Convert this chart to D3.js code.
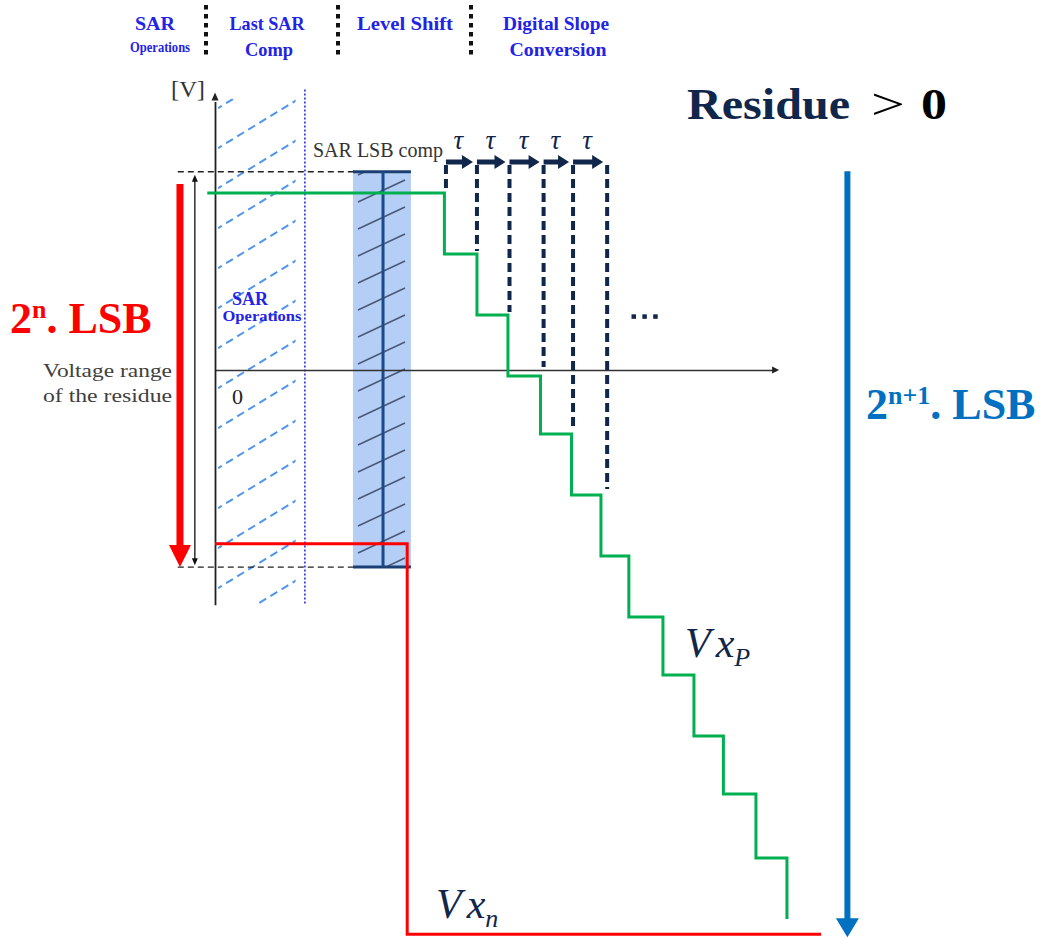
<!DOCTYPE html>
<html><head><meta charset="utf-8">
<script src="https://cdn.jsdelivr.net/npm/d3@7"></script>
<style>body{margin:0;background:#fff}svg{display:block}</style>
</head><body>
<svg id="c" width="1053" height="938"></svg>
<script>
// ---------------- data ----------------
// time in "step" units (0 = voltage axis), voltage in "step" units (0 = time axis)
const stairTime = [-0.25, 7.4, 8.45, 9.45, 10.5, 11.5, 12.45, 13.35, 14.45, 15.45, 16.4, 17.45, 18.45];
const stairVolt = [2.9, 1.9, 0.9, -0.1, -1.05, -2.05, -3.05, -4.05, -5.0, -6.0, -6.95, -8.0, -9.0];
const vxnTime = [0, 6.2, 6.2, 19.55];
const vxnVolt = [-2.85, -2.85, -9.25, -9.25];
const tauTime = [7.45, 8.45, 9.5, 10.6, 11.55, 12.65];
const tauEndVolt = [2.9, 1.95, 0.95, 0.05, -0.95, -1.95];
const tauLabels = ["τ", "τ", "τ", "τ", "τ"];
const phaseLabels = ["SAR", "Last SAR", "Level Shift", "Digital Slope"];
const phaseSubLabels = ["Operations", "Comp", "", "Conversion"];
const residueRange = [3.25, -3.23];      // top / bottom of the residue voltage range
const lsbCompTime = [4.45, 5.42, 6.32];  // left, centre, right of the last SAR comparison band
const sarOpsTime = [0.1, 2.6, 2.9];      // hatch start, hatch end, phase boundary

const svg = d3.select("#c");
const x = d3.scaleLinear().domain([0, 1]).range([215, 246]);
const y = d3.scaleLinear().domain([0, 1]).range([370, 309]);

const NAVY = "#10264a", GREEN = "#00b050", RED = "#ff0000", BLUE = "#0070c0", HDR = "#2323e6";
const SERIF = "'Liberation Serif', 'DejaVu Serif', serif";

function txt(g, px, py, s, o) {
  const t = g.append("text").attr("x", px).attr("y", py).text(s)
    .attr("font-family", o.family || SERIF).attr("font-size", o.size)
    .attr("font-weight", o.weight || "normal").attr("fill", o.fill || "#000")
    .attr("text-anchor", o.anchor || "start");
  if (o.italic) t.attr("font-style", "italic");
  if (o.width) t.attr("textLength", o.width).attr("lengthAdjust", "spacingAndGlyphs");
  return t;
}
function vArrow(g, cx, y1, y2, shaft, headL, headW, fill) {
  const p = d3.path();
  p.moveTo(cx - shaft / 2, y1); p.lineTo(cx + shaft / 2, y1);
  p.lineTo(cx + shaft / 2, y2 - headL); p.lineTo(cx + headW / 2, y2 - headL);
  p.lineTo(cx, y2); p.lineTo(cx - headW / 2, y2 - headL);
  p.lineTo(cx - shaft / 2, y2 - headL); p.closePath();
  return g.append("path").attr("d", p.toString()).attr("fill", fill);
}
function hArrow(g, x1, x2, cy, shaft, headL, headW, fill) {
  const p = d3.path();
  p.moveTo(x1, cy - shaft / 2); p.lineTo(x2 - headL, cy - shaft / 2);
  p.lineTo(x2 - headL, cy - headW / 2); p.lineTo(x2, cy);
  p.lineTo(x2 - headL, cy + headW / 2); p.lineTo(x2 - headL, cy + shaft / 2);
  p.lineTo(x1, cy + shaft / 2); p.closePath();
  return g.append("path").attr("d", p.toString()).attr("fill", fill);
}
function upHead(g, cx, tip, headL, headW, fill) {
  const p = d3.path();
  p.moveTo(cx, tip); p.lineTo(cx + headW / 2, tip + headL); p.lineTo(cx - headW / 2, tip + headL); p.closePath();
  return g.append("path").attr("d", p.toString()).attr("fill", fill);
}

// ---------------- header phases ----------------
const hdr = svg.append("g");
const hdrCx = [155, 267, 405, 556];
const hdrW = [40, 75, 96, 106];
const hdrSubCx = [160, 269, 0, 558];
const hdrSubW = [60, 48, 0, 97];
phaseLabels.forEach((s, i) => {
  txt(hdr, hdrCx[i], 30, s, {size: 19, weight: "bold", fill: HDR, anchor: "middle", width: hdrW[i]});
  if (phaseSubLabels[i])
    txt(hdr, hdrSubCx[i], i === 0 ? 52 : 56, phaseSubLabels[i], {size: i === 0 ? 15 : 19, weight: "bold", fill: HDR, anchor: "middle", width: hdrSubW[i]});
});
[206, 338, 471].forEach(sx => {
  hdr.append("line").attr("x1", sx).attr("x2", sx).attr("y1", 5).attr("y2", 55)
    .attr("stroke", "#111").attr("stroke-width", 4).attr("stroke-dasharray", "4.5,4.5");
});

// ---------------- SAR operations hatch ----------------
const defs = svg.append("defs");
defs.append("clipPath").attr("id", "hatchClip").append("rect")
  .attr("x", x(sarOpsTime[0])).attr("y", y(4.45)).attr("width", x(sarOpsTime[1]) - x(sarOpsTime[0]))
  .attr("height", y(-3.85) - y(4.45));
const hatch = svg.append("g").attr("clip-path", "url(#hatchClip)");
d3.range(-2, 14).forEach(k => {
  const y0 = 150 + 40 * k;
  hatch.append("line").attr("x1", 215).attr("y1", y0).attr("x2", 305).attr("y2", y0 - 55)
    .attr("stroke", "#4f95ee").attr("stroke-width", 2).attr("stroke-dasharray", "8,5");
});
svg.append("line").attr("x1", x(sarOpsTime[2])).attr("x2", x(sarOpsTime[2]))
  .attr("y1", y(4.6)).attr("y2", y(-3.85))
  .attr("stroke", "#2a2af0").attr("stroke-width", 1.6).attr("stroke-dasharray", "2,2");

// ---------------- last SAR comparison band ----------------
const bandTop = y(residueRange[0]), bandBot = y(residueRange[1]);
defs.append("clipPath").attr("id", "bandClip").append("rect")
  .attr("x", x(lsbCompTime[0])).attr("y", bandTop).attr("width", x(lsbCompTime[2]) - x(lsbCompTime[0]))
  .attr("height", bandBot - bandTop);
svg.append("rect").attr("x", x(lsbCompTime[0])).attr("y", bandTop)
  .attr("width", x(lsbCompTime[2]) - x(lsbCompTime[0])).attr("height", bandBot - bandTop)
  .attr("fill", "#b4cef5");
const bh = svg.append("g").attr("clip-path", "url(#bandClip)");
d3.range(-1, 16).forEach(k => {
  const y0 = 202 + 27 * k;
  bh.append("line").attr("x1", 358).attr("y1", y0).attr("x2", 405).attr("y2", y0 - 22)
    .attr("stroke", "#4a5878").attr("stroke-width", 1.5);
});

// ---------------- range guides ----------------
residueRange.forEach(v => {
  svg.append("line").attr("x1", x(-1.2)).attr("x2", x(lsbCompTime[0])).attr("y1", y(v)).attr("y2", y(v))
    .attr("stroke", "#222").attr("stroke-width", 1.3).attr("stroke-dasharray", "6,4");
  svg.append("line").attr("x1", x(lsbCompTime[0])).attr("x2", x(lsbCompTime[2])).attr("y1", y(v)).attr("y2", y(v))
    .attr("stroke", "#1a3f73").attr("stroke-width", 3);
});
svg.append("line").attr("x1", x(lsbCompTime[1])).attr("x2", x(lsbCompTime[1]))
  .attr("y1", bandTop).attr("y2", bandBot).attr("stroke", "#1a4a8a").attr("stroke-width", 3);

// ---------------- axes ----------------
const axG = svg.append("g");
const xAxisScale = d3.scaleLinear().domain([0, 18.1]).range([x(0), x(18.1)]);
axG.append("g").attr("transform", `translate(0,${y(0)})`)
  .call(d3.axisBottom(xAxisScale).ticks(0).tickSizeOuter(0))
  .call(g => g.select(".domain").attr("stroke", "#333").attr("stroke-width", 1.5));
const yAxisScale = d3.scaleLinear().domain([-3.85, 4.4]).range([y(-3.85), y(4.4)]);
axG.append("g").attr("transform", `translate(${x(0)},0)`)
  .call(d3.axisLeft(yAxisScale).ticks(0).tickSizeOuter(0))
  .call(g => g.select(".domain").attr("stroke", "#222").attr("stroke-width", 1.8));
hArrow(axG, x(18.0), x(18.1) + 3, y(0), 0, 7, 7, "#222");
upHead(axG, x(0), y(4.55), 8, 7, "#222");
txt(svg, 171, 97, "[V]", {size: 24, fill: "#333", width: 34});
txt(svg, x(0.55), y(-0.55), "0", {size: 22, fill: "#222"});

// ---------------- tau timing ----------------
const tauG = svg.append("g");
tauTime.forEach((t, i) => {
  tauG.append("line").attr("x1", x(t)).attr("x2", x(t)).attr("y1", y(3.36)).attr("y2", y(tauEndVolt[i]))
    .attr("stroke", NAVY).attr("stroke-width", 4).attr("stroke-dasharray", "9,5");
});
tauLabels.forEach((s, i) => {
  hArrow(tauG, x(tauTime[i]), x(tauTime[i + 1]) - 4, y(3.41), 5, 11, 14, NAVY);
  txt(tauG, (x(tauTime[i]) + x(tauTime[i + 1])) / 2 - 3, y(3.63), s, {size: 27, italic: true, fill: NAVY, anchor: "middle"});
});
[13.5, 13.85, 14.2].forEach(t => {
  tauG.append("rect").attr("x", x(t) - 2).attr("y", y(0.88) - 2).attr("width", 4.5).attr("height", 4.5).attr("fill", NAVY);
});
txt(svg, 313, 157, "SAR LSB comp", {size: 20, fill: "#333", width: 130});

// ---------------- signals ----------------
const line = d3.line().x(d => x(d[0])).y(d => y(d[1])).curve(d3.curveStepAfter);
svg.append("path").attr("d", line(d3.zip(vxnTime, vxnVolt)))
  .attr("fill", "none").attr("stroke", RED).attr("stroke-width", 3);
svg.append("path").attr("d", line(d3.zip(stairTime, stairVolt)))
  .attr("fill", "none").attr("stroke", GREEN).attr("stroke-width", 3);

// ---------------- range arrows ----------------
vArrow(svg, x(-1.13), y(3.05), y(-3.23), 7, 22, 22, RED);
svg.append("line").attr("x1", x(-0.65)).attr("x2", x(-0.65)).attr("y1", y(3.15)).attr("y2", y(-3.13))
  .attr("stroke", "#111").attr("stroke-width", 1.3);
vArrow(svg, x(-0.65), y(-3.0), y(-3.2), 0, 7, 6, "#111");
upHead(svg, x(-0.65), y(3.2), 7, 6, "#111");
vArrow(svg, x(20.4), y(3.26), y(-9.3), 6, 19, 23, BLUE);

// ---------------- labels ----------------
txt(svg, 250, 305, "SAR", {size: 18, weight: "bold", fill: HDR, anchor: "middle", width: 36});
txt(svg, 262, 321, "Operations", {size: 14, weight: "bold", fill: HDR, anchor: "middle", width: 79});
txt(svg, 43, 377, "Voltage range", {size: 19, fill: "#404040", width: 129});
txt(svg, 43, 402, "of the residue", {size: 19, fill: "#404040", width: 129});

const lsbL = svg.append("text").attr("x", 10).attr("y", 333).attr("font-family", SERIF)
  .attr("font-weight", "bold").attr("fill", RED);
lsbL.append("tspan").attr("font-size", 44).text("2");
lsbL.append("tspan").attr("font-size", 26).attr("dy", -15).text("n");
lsbL.append("tspan").attr("font-size", 44).attr("dy", 15).text(". LSB");

const lsbR = svg.append("text").attr("x", 866).attr("y", 419).attr("font-family", SERIF)
  .attr("font-weight", "bold").attr("fill", BLUE);
lsbR.append("tspan").attr("font-size", 44).text("2");
lsbR.append("tspan").attr("font-size", 26).attr("dy", -15).text("n+1");
lsbR.append("tspan").attr("font-size", 44).attr("dy", 15).text(". LSB");

txt(svg, 687, 119, "Residue", {size: 44, weight: "bold", fill: NAVY, width: 163});
txt(svg, 871, 119, ">", {size: 44, fill: "#000", width: 34});
txt(svg, 921, 119, "0", {size: 44, weight: "bold", fill: "#000", width: 26});

const vxp = svg.append("text").attr("x", 685).attr("y", 657).attr("font-family", SERIF)
  .attr("font-style", "italic").attr("fill", NAVY);
vxp.append("tspan").attr("font-size", 42).text("V");
vxp.append("tspan").attr("font-size", 42).attr("dx", 5).text("x");
vxp.append("tspan").attr("font-size", 26).attr("dy", 9).text("P");

const vxn = svg.append("text").attr("x", 436).attr("y", 918).attr("font-family", SERIF)
  .attr("font-style", "italic").attr("fill", NAVY);
vxn.append("tspan").attr("font-size", 42).text("V");
vxn.append("tspan").attr("font-size", 42).attr("dx", 5).text("x");
vxn.append("tspan").attr("font-size", 26).attr("dy", 9).text("n");
</script>
</body></html>
